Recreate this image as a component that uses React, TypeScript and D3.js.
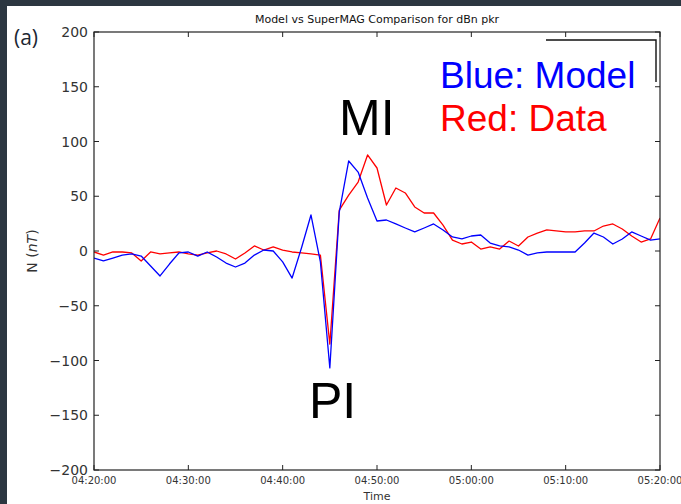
import React from "react";
import * as d3 from "d3";

// dBn at station PKR, sampled every minute from 04:20 to 05:20 UT
const startTime = "2000-01-01T04:20:00Z";
const modelValues = [
  -6.4, -9.1, -6.4, -3.7, -2.7, -4.6, -13.7, -22.8, -11.9, -1.8,
  -0.9, -4.6, -0.9, -5.5, -11, -14.6, -11, -3.7, 0.9, 0,
  -10, -24.7, 3, 32.9, -10, -106.8, 35.6, 82.2, 72.1, 48.4,
  27.4, 28.3, 24.7, 21, 17.4, 21, 24.7, 19.2, 12.8, 11,
  13.7, 14.6, 7.3, 4.6, 3.7, 0.9, -3.7, -1.8, -0.9, -0.9,
  -0.9, -0.9, 7.3, 16.4, 12.8, 6.4, 11, 17.4, 13.7, 10,
  11,
];
const dataValues = [
  -0.9, -3.7, -0.9, -0.9, -1.8, -9.1, -0.9, -2.7, -1.8, -0.9,
  -2.7, -3.7, -1.8, 0, -2.7, -7.3, -1.8, 4.6, 0.9, 3.7,
  0.9, -0.9, -1.8, -2.7, -3.7, -85, 37.4, 51.1, 63, 87.7,
  75.8, 42, 57.5, 53, 40.2, 34.7, 34.7, 23.7, 10, 6.4,
  8.2, 1.8, 3.7, 1.8, 9.1, 4.6, 12.8, 16.4, 19.2, 18.3,
  17.4, 17.4, 18.3, 18.3, 22.8, 24.7, 20.1, 13.7, 8.2, 11,
  30.1,
];
const yTicks = [200, 150, 100, 50, 0, -50, -100, -150, -200];
const xTickMinutes = [0, 10, 20, 30, 40, 50, 60];

const W = 681;
const H = 504;
const plot = { left: 94, right: 660, top: 32, bottom: 470 };

export default function App() {
  const t0 = new Date(startTime);
  const addMin = (m: number) => new Date(t0.getTime() + m * 60000);
  const x = d3
    .scaleUtc()
    .domain([t0, addMin(60)])
    .range([plot.left, plot.right]);
  const y = d3.scaleLinear().domain([-200, 200]).range([plot.bottom, plot.top]);
  const fmt = d3.utcFormat("%H:%M:%S");
  const line = d3
    .line<number>()
    .x((_, i) => x(addMin(i)))
    .y((d) => y(d));
  const minus = (v: number) => (v < 0 ? "\u2212" + Math.abs(v) : String(v));
  const tickLen = 5;
  const axisColor = "#222";

  return (
    <svg
      width={W}
      height={H}
      style={{ position: "absolute", left: 0, top: 0, display: "block" }}
      fontFamily="DejaVu Sans, sans-serif"
    >
      <rect x={0} y={0} width={W} height={H} fill="#2c3741" />
      <rect x={7} y={6} width={W - 7} height={H - 6} fill="#ffffff" />

      <text x={14} y={45} fontSize={21} fill="#1c2733" fontFamily="Open Sans, sans-serif">
        (a)
      </text>

      <text x={377} y={23} fontSize={11} textAnchor="middle" fill="#111">
        Model vs SuperMAG Comparison for dBn pkr
      </text>

      <defs>
        <clipPath id="plotClip">
          <rect
            x={plot.left}
            y={plot.top}
            width={plot.right - plot.left}
            height={plot.bottom - plot.top}
          />
        </clipPath>
      </defs>

      <g clipPath="url(#plotClip)" fill="none" strokeWidth={1.3} strokeLinejoin="round">
        <path d={line(dataValues) || ""} stroke="#ff0000" />
        <path d={line(modelValues) || ""} stroke="#0000ff" />
      </g>

      {/* frame */}
      <rect
        x={plot.left}
        y={plot.top}
        width={plot.right - plot.left}
        height={plot.bottom - plot.top}
        fill="none"
        stroke={axisColor}
        strokeWidth={1.2}
      />

      {yTicks.map((v) => (
        <g key={"y" + v}>
          <line x1={plot.left} x2={plot.left + tickLen} y1={y(v)} y2={y(v)} stroke={axisColor} />
          <line x1={plot.right} x2={plot.right - tickLen} y1={y(v)} y2={y(v)} stroke={axisColor} />
          <text
            x={plot.left - 6}
            y={y(v)}
            dy="0.36em"
            fontSize={14}
            textAnchor="end"
            fill="#333"
          >
            {minus(v)}
          </text>
        </g>
      ))}

      {xTickMinutes.map((m) => {
        const xv = x(addMin(m));
        return (
          <g key={"x" + m}>
            <line x1={xv} x2={xv} y1={plot.bottom} y2={plot.bottom - tickLen} stroke={axisColor} />
            <line x1={xv} x2={xv} y1={plot.top} y2={plot.top + tickLen} stroke={axisColor} />
            <text x={xv} y={484} fontSize={10} textAnchor="middle" fill="#333">
              {fmt(addMin(m))}
            </text>
          </g>
        );
      })}

      <text x={377} y={500} fontSize={11} textAnchor="middle" fill="#333">
        Time
      </text>

      <text
        transform={`translate(37, ${(plot.top + plot.bottom) / 2}) rotate(-90)`}
        fontSize={14}
        textAnchor="middle"
        fill="#333"
      >
        N (<tspan fontStyle="italic">nT</tspan>)
      </text>

      {/* legend frame remnant */}
      <polyline
        points="546,40 656,40 656,82"
        fill="none"
        stroke="#111"
        strokeWidth={1.4}
      />

      <g fontFamily="Liberation Sans, Arial, sans-serif">
        <text x={440} y={88} fontSize={37} fill="#0000ff">
          Blue: Model
        </text>
        <text x={440} y={131} fontSize={37} fill="#ff0000">
          Red: Data
        </text>
        <text x={339} y={135} fontSize={50} fill="#000">
          MI
        </text>
        <text x={309} y={418} fontSize={50} fill="#000">
          PI
        </text>
      </g>
    </svg>
  );
}
